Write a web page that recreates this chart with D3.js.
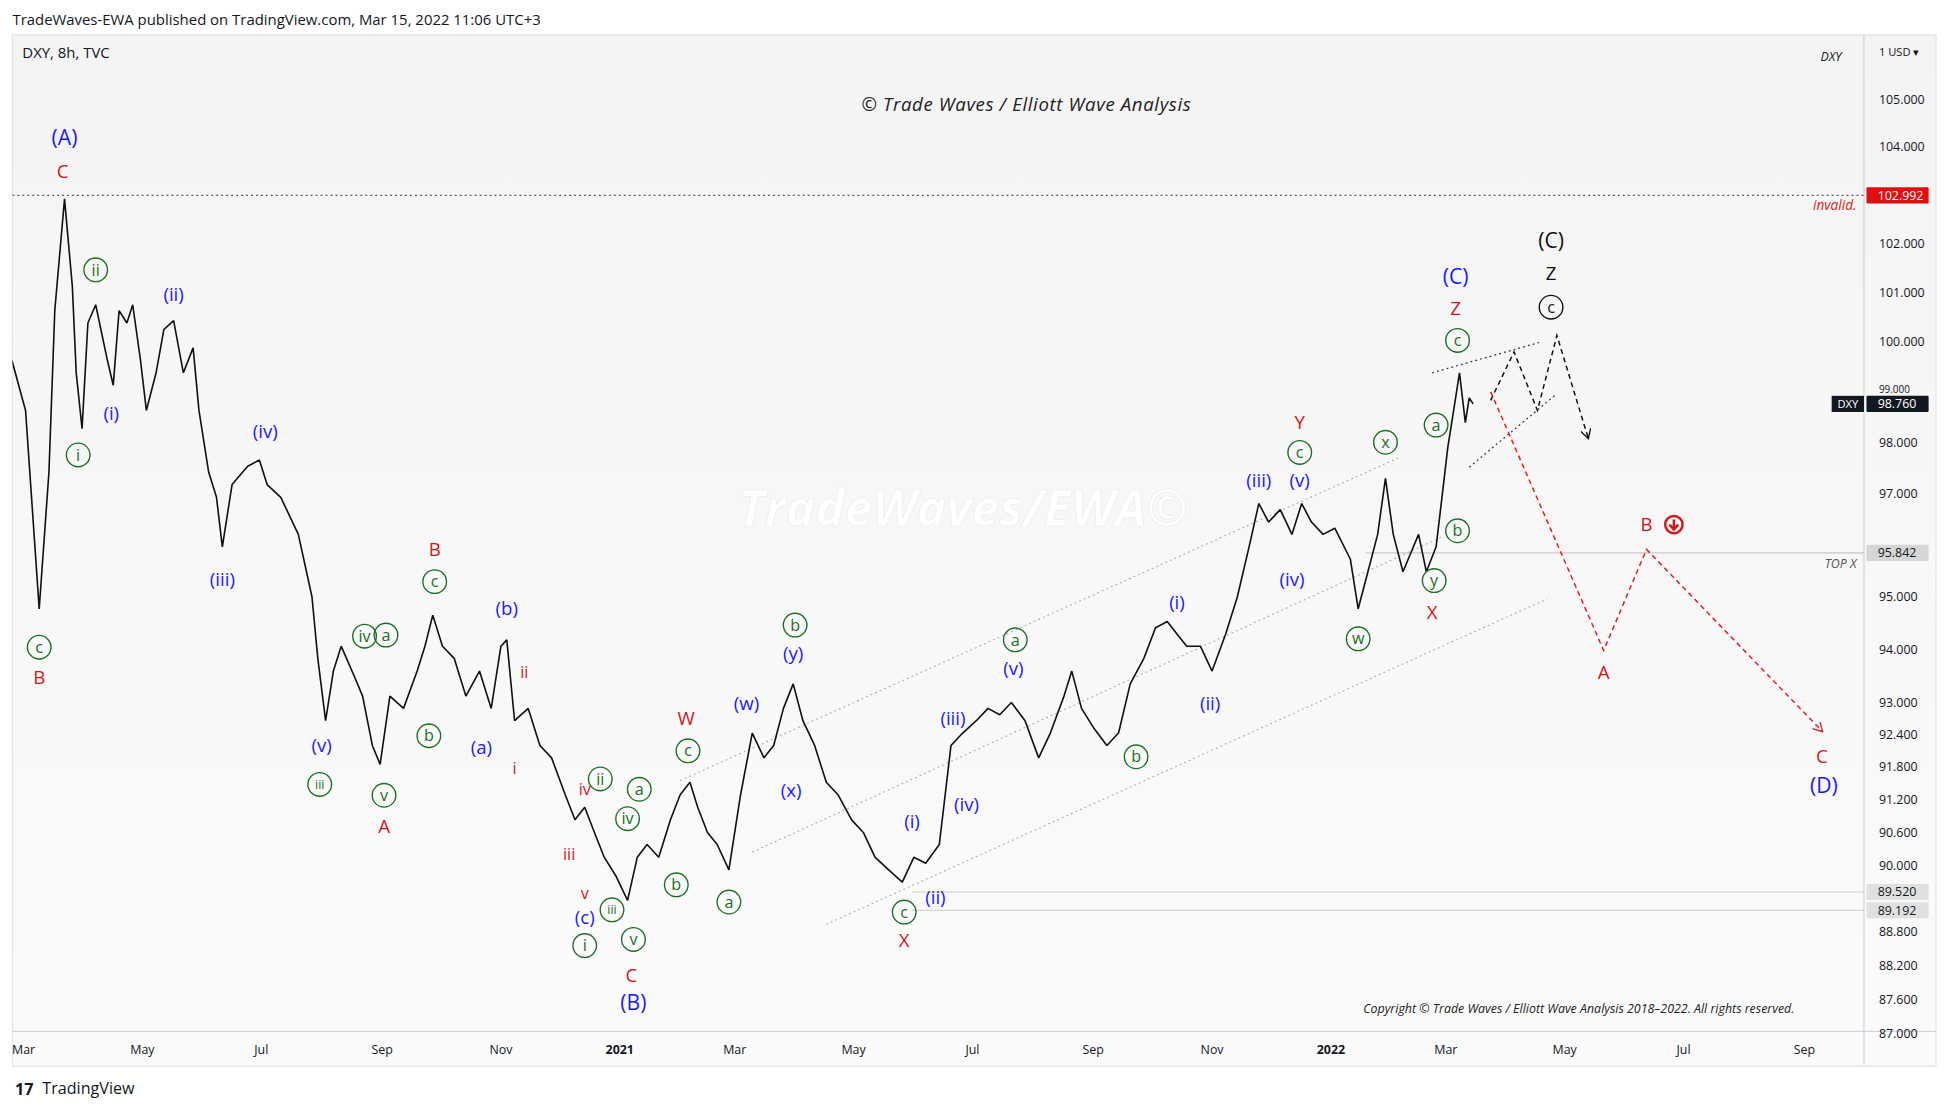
<!DOCTYPE html>
<html><head><meta charset="utf-8">
<script src="https://cdn.jsdelivr.net/npm/d3@7"></script>
<style>body{margin:0;background:#fff}svg{display:block;font-family:"Open Sans",sans-serif}</style>
</head><body>
<svg id="c" width="1946" height="1108" viewBox="0 0 1566 891.6"></svg>
<script>
// ---- data ----
const priceDays=[-6,1,8,13,16,21,25,27,30,33,37,43,46,49,53,56,60,63,68,72,77,82,87,90,95,99,102,107,115,121,125,132,141,148,151,155,159,163,170,174,179,183,188,195,202,206,210,215,221,227,234,240,245,248,252,259,265,271,278,283,288,293,298,304,310,315,320,326,332,337,342,346,351,356,362,368,374,380,385,390,395,400,406,412,418,425,431,437,444,451,457,463,470,476,482,489,495,501,507,514,521,527,534,538,543,549,556,562,568,575,581,587,592,597,604,610,617,623,629,634,639,645,651,656,661,667,673,681,685,690,695,699,703,708,712,716,720,725,728,731,734,737,740,742,744];
const prices=[99.63,98.63,94.77,97.41,100.63,102.92,101.13,99.38,98.27,100.38,100.75,99.63,99.13,100.63,100.38,100.75,99.63,98.63,99.38,100.25,100.43,99.38,99.88,98.63,97.41,96.92,95.96,97.17,97.53,97.65,97.17,96.92,96.20,95.0,93.83,92.66,93.59,94.06,93.47,93.12,92.20,91.85,93.12,92.89,93.59,94.06,94.65,94.06,93.83,93.12,93.59,92.89,94.06,94.18,92.66,92.89,92.20,91.97,91.29,90.83,91.06,90.60,90.15,89.81,89.37,90.15,90.38,90.15,90.83,91.29,91.52,91.06,90.60,90.38,89.92,91.29,92.43,91.97,92.20,92.89,93.35,92.66,92.20,91.52,91.29,90.83,90.60,90.15,89.92,89.70,90.15,90.04,90.38,92.20,92.43,92.66,92.89,92.77,93.00,92.66,91.97,92.43,93.12,93.59,92.89,92.54,92.20,92.43,93.35,93.83,94.41,94.53,94.29,94.06,94.06,93.59,94.29,95.0,95.96,96.80,96.44,96.68,96.20,96.80,96.44,96.20,96.32,95.72,94.77,95.48,96.20,97.29,96.20,95.48,95.84,96.20,95.48,95.96,96.92,97.90,98.63,99.38,98.39,98.88,98.76];
const monthTicks=[["2020-03-01","Mar"],["2020-05-01","May"],["2020-07-01","Jul"],["2020-09-01","Sep"],["2020-11-01","Nov"],["2021-01-01","2021"],["2021-03-01","Mar"],["2021-05-01","May"],["2021-07-01","Jul"],["2021-09-01","Sep"],["2021-11-01","Nov"],["2022-01-01","2022"],["2022-03-01","Mar"],["2022-05-01","May"],["2022-07-01","Jul"],["2022-09-01","Sep"]];
const priceTicks=[105,104,102,101,100,99,98,97,95,94,93,92.4,91.8,91.2,90.6,90,88.8,88.2,87.6,87];
// labels: day, price, text, colour key, circled
const waveLabels=[
[21,104.19,"(A)","b",0],[20,103.48,"C","r",0],[8,93.47,"B","r",0],[8,94.04,"c","g",1],
[37,101.46,"ii","g",1],[28,97.75,"i","g",1],[45,98.56,"(i)","b",0],[77,100.95,"(ii)","b",0],
[124,98.22,"(iv)","b",0],[102,95.34,"(iii)","b",0],[175,94.25,"iv","g",1],[186,94.27,"a","g",1],
[208,92.38,"b","g",1],[152,91.48,"iii","g",1],[185,91.28,"v","g",1],[153,92.20,"(v)","b",0],
[185,90.71,"A","r",0],[211,95.91,"B","r",0],[211,95.29,"c","g",1],[248,94.77,"(b)","b",0],
[235,92.17,"(a)","b",0],[257,93.57,"ii","r",0],[252,91.78,"i","r",0],[280,90.21,"iii","r",0],
[288,91.39,"iv","r",0],[288,89.49,"v","r",0],[296,91.58,"ii","g",1],[310,90.85,"iv","g",1],
[316,91.39,"a","g",1],[288,89.07,"(c)","b",0],[302,89.20,"iii","g",1],[288,88.56,"i","g",1],
[313,88.67,"v","g",1],[312,88.03,"C","r",0],[313,87.55,"(B)","b",0],[340,92.71,"W","r",0],
[341,92.10,"c","g",1],[335,89.65,"b","g",1],[362,89.34,"a","g",1],[371,92.98,"(w)","b",0],
[394,91.37,"(x)","b",0],[395,93.92,"(y)","b",0],[396,94.46,"b","g",1],[456,90.80,"(i)","b",0],
[468,89.43,"(ii)","b",0],[452,89.16,"c","g",1],[452,88.65,"X","r",0],[477,92.71,"(iii)","b",0],
[484,91.12,"(iv)","b",0],[508,93.64,"(v)","b",0],[509,94.18,"a","g",1],[571,91.99,"b","g",1],
[592,94.89,"(i)","b",0],[609,92.98,"(ii)","b",0],[634,97.24,"(iii)","b",0],[655,97.24,"(v)","b",0],
[655,97.80,"c","g",1],[655,98.39,"Y","r",0],[651,95.34,"(iv)","b",0],[685,94.20,"w","g",1],
[699,98.0,"x","g",1],[725,98.34,"a","g",1],[736,96.27,"b","g",1],[724,95.31,"y","g",1],
[723,94.70,"X","r",0],[735,101.33,"(C)","b",0],[735,100.68,"Z","r",0],[736,100.03,"c","g",1],
[784,102.05,"(C)","k",0],[784,101.38,"Z","k",0],[784,100.70,"c","k",1],[833,96.39,"B","r",0],
[811,93.57,"A","r",0],[923,91.99,"C","r",0],[924,91.46,"(D)","b",0]];
const channelLines=[[[337,91.55],[706,97.70]],[[374,90.24],[728,96.15]],[[412,88.94],[782,94.96]]];
const wedgeLines=[[[723,99.38],[779,100.0]],[[742,97.51],[786,98.93]]];
const blackPath=[[753,98.83],[765,99.80],[777,98.63],[787,100.13],[803,98.09]];
const redPath=[[753,99.0],[811,93.98],[833,95.91],[923,92.47]];
const levels=[[102.992,-10,"#555",0.9],[95.842,689,"#bbb",0.8],[89.52,456,"#ccc",0.8],[89.192,456,"#ccc",0.8]];
const axisBoxes=[[102.992,"#e01010","#fff"],[98.76,"#131722","#fff"],[95.842,"#d6d6d6","#131722"],[89.52,"#e0e0e0","#131722"],[89.192,"#e0e0e0","#131722"]];

// ---- chart ----
const svg=d3.select("#c");
const base=new Date(2020,2,1);
const D=d=>d3.timeDay.offset(base,d);
const x=d3.scaleTime().domain([new Date(2020,2,1),new Date(2022,8,1)]).range([19,1452]);
const y=d3.scaleLog().domain([87,105]).range([832,80]);
const col={b:"#1a1aff",r:"#d01818",g:"#1b6e22",k:"#111"};
const T=28,B=830,R=1500;

const defs=svg.append("defs");
const gr=defs.append("linearGradient").attr("id","bg").attr("x1",0).attr("x2",0).attr("y1",0).attr("y2",1);
gr.append("stop").attr("offset",0).attr("stop-color","#f4f4f4");
gr.append("stop").attr("offset",1).attr("stop-color","#fbfbfb");
defs.append("clipPath").attr("id","cp").append("rect").attr("x",10).attr("y",T).attr("width",R-10).attr("height",B-T);
["ak","ar"].forEach((id,i)=>defs.append("marker").attr("id",id).attr("viewBox","0 0 10 10").attr("refX",8).attr("refY",5)
  .attr("markerWidth",7).attr("markerHeight",7).attr("orient","auto").append("path").attr("d","M0,0L9,5L0,10").attr("fill","none")
  .attr("stroke",i?"#e02020":"#111").attr("stroke-width",1.3));

svg.append("rect").attr("x",10).attr("y",T).attr("width",1548).attr("height",B-T+28).attr("fill","url(#bg)").attr("stroke","#e0e3eb");
svg.append("line").attr("x1",R).attr("x2",R).attr("y1",T).attr("y2",857).attr("stroke","#d1d4dc");
svg.append("line").attr("x1",10).attr("x2",1558).attr("y1",B).attr("y2",B).attr("stroke","#d1d4dc");

const pg=svg.append("g").attr("clip-path","url(#cp)");
levels.forEach(([p,d0,c,w])=>pg.append("line").attr("x1",d0<0?10:x(D(d0))).attr("x2",R).attr("y1",y(p)).attr("y2",y(p))
  .attr("stroke",c).attr("stroke-width",w).attr("stroke-dasharray",p>100?"1.5,2.5":null));
channelLines.concat(wedgeLines).forEach((ln,i)=>pg.append("line").attr("x1",x(D(ln[0][0]))).attr("y1",y(ln[0][1]))
  .attr("x2",x(D(ln[1][0]))).attr("y2",y(ln[1][1])).attr("stroke",i<3?"#aaa":"#333").attr("stroke-width",i<3?0.9:1).attr("stroke-dasharray","1.5,2.5"));
const line=d3.line().x(d=>x(D(d[0]))).y(d=>y(d[1]));
const pts=priceDays.map((d,i)=>[d,prices[i]]);
pg.append("path").attr("d",line(pts)).attr("fill","none").attr("stroke","#111").attr("stroke-width",1.3).attr("stroke-linejoin","bevel");
pg.append("path").attr("d",line(blackPath)).attr("fill","none").attr("stroke","#111").attr("stroke-width",1.2).attr("stroke-dasharray","4,3").attr("marker-end","url(#ak)");
pg.append("path").attr("d",line(redPath)).attr("fill","none").attr("stroke","#e02020").attr("stroke-width",1.2).attr("stroke-dasharray","4,3").attr("marker-end","url(#ar)");

// watermark & titles
svg.append("text").attr("x",775).attr("y",423).attr("text-anchor","middle").attr("font-size",40).attr("font-weight","bold").attr("font-style","italic")
  .attr("fill","#fff").attr("stroke","#ececec").attr("stroke-width",0.6).text("TradeWaves/EWA©");
svg.append("text").attr("x",826).attr("y",89).attr("text-anchor","middle").attr("font-size",15).attr("font-style","italic").attr("fill","#222").attr("letter-spacing",0.5).text("© Trade Waves / Elliott Wave Analysis");
svg.append("text").attr("x",10).attr("y",20).attr("font-size",12).attr("fill","#131722").text("TradeWaves-EWA published on TradingView.com, Mar 15, 2022 11:06 UTC+3");
svg.append("text").attr("x",18).attr("y",47).attr("font-size",12).attr("fill","#131722").text("DXY, 8h, TVC");
svg.append("text").attr("x",1482).attr("y",49).attr("text-anchor","end").attr("font-size",10).attr("font-style","italic").attr("fill","#131722").text("DXY");
svg.append("text").attr("x",1494).attr("y",169).attr("text-anchor","end").attr("font-size",11).attr("font-style","italic").attr("fill","#e02020").text("invalid.");
svg.append("text").attr("x",1494).attr("y",457).attr("text-anchor","end").attr("font-size",10).attr("font-style","italic").attr("fill","#555").text("TOP X");
svg.append("text").attr("x",1444).attr("y",815).attr("text-anchor","end").attr("font-size",10).attr("font-style","italic").attr("fill","#222").text("Copyright © Trade Waves / Elliott Wave Analysis 2018–2022. All rights reserved.");
svg.append("text").attr("x",12).attr("y",881).attr("font-size",13).attr("font-weight","bold").attr("fill","#131722").text("17");
svg.append("text").attr("x",34).attr("y",880).attr("font-size",13).attr("fill","#131722").text("TradingView");

// wave labels
const wl=svg.append("g");
waveLabels.forEach(([d,p,t,c,circ])=>{
  const cx=x(D(d)),cy=y(p),big=/^\([A-D]\)$/.test(t);
  const fs=big?17:(c==="r"&&/^[iv]+$/.test(t)?13:15);
  if(circ){wl.append("circle").attr("cx",cx).attr("cy",cy).attr("r",9.5).attr("fill","none").attr("stroke",col[c]).attr("stroke-width",1.1);}
  wl.append("text").attr("x",cx).attr("y",cy).attr("dy","0.35em").attr("text-anchor","middle").attr("font-size",circ?(t.length>2?10:13):fs)
    .attr("fill",col[c]).text(t);
});
const bx=x(D(833))+22,by=y(96.39);
svg.append("circle").attr("cx",bx).attr("cy",by).attr("r",7).attr("fill","none").attr("stroke","#d01818").attr("stroke-width",2);
svg.append("path").attr("d",`M${bx},${by-4}V${by+3}M${bx-3.5},${by}L${bx},${by+4}L${bx+3.5},${by}`).attr("stroke","#d01818").attr("stroke-width",2).attr("fill","none");

// axes
const ya=svg.append("g");
priceTicks.forEach(p=>ya.append("text").attr("x",1512).attr("y",y(p)-(p===99?2:0)).attr("dy","0.35em").attr("font-size",p===99?8:10).attr("fill","#131722").text(p.toFixed(3)));
ya.append("text").attr("x",1512).attr("y",45).attr("font-size",9).attr("fill","#131722").text("1 USD ▾");
axisBoxes.forEach(([p,bg,fg])=>{ya.append("rect").attr("x",1502).attr("y",y(p)-6.5).attr("width",50).attr("height",13).attr("fill",bg).attr("rx",1);
  ya.append("text").attr("x",1511).attr("y",y(p)).attr("dy","0.35em").attr("font-size",10).attr("fill",fg).text(p.toFixed(3));});
ya.append("rect").attr("x",1474).attr("y",y(98.76)-6.5).attr("width",26).attr("height",13).attr("fill","#131722");
ya.append("text").attr("x",1487).attr("y",y(98.76)).attr("dy","0.35em").attr("text-anchor","middle").attr("font-size",9).attr("fill","#fff").text("DXY");
monthTicks.forEach(([d,t])=>svg.append("text").attr("x",x(new Date(d))).attr("y",848).attr("text-anchor","middle").attr("font-size",10)
  .attr("font-weight",/^20/.test(t)?"bold":null).attr("fill","#131722").text(t));
</script></body></html>
